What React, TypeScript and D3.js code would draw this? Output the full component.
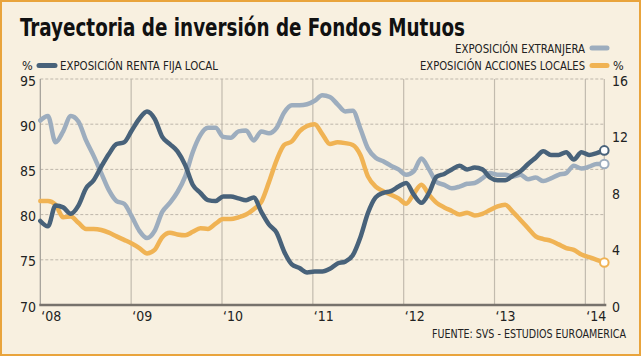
import React from "react";
import * as d3 from "d3";

const W = 641;
const H = 356;

const yearLabels = ["‘08", "‘09", "‘10", "‘11", "‘12", "‘13", "‘14"];
const yearMonths = [0, 12, 24, 36, 48, 60, 72];
const leftTicks = [70, 75, 80, 85, 90, 95];
const rightTicks = [0, 4, 8, 12, 16];
const gridTicks = [75, 80, 85, 90, 95];

// Exposición renta fija local (%, left axis), monthly Jan 2008 – Mar 2014
const rentaFija = [
  79.3, 78.7, 81.0, 80.8, 80.1, 81.0, 82.9, 83.8, 85.3, 86.7, 87.8, 88.0,
  89.3, 90.6, 91.4, 90.6, 88.6, 87.8, 87.0, 85.5, 83.3, 82.4, 81.6, 81.5,
  82.0, 82.0, 81.8, 81.6, 81.9, 80.3, 78.9, 78.0, 75.9, 74.5, 74.1, 73.6,
  73.7, 73.7, 74.0, 74.6, 74.8, 75.5, 77.5, 80.2, 81.9, 82.4, 82.6, 83.1,
  83.5, 82.2, 81.3, 82.4, 84.2, 84.5, 85.0, 85.4, 85.0, 85.2, 85.0, 84.1,
  83.8, 83.8, 84.3, 84.8, 85.6, 86.3, 87.0, 86.6, 86.6, 86.9, 86.1, 86.9,
  86.6, 86.8, 87.1,
];

// Exposición extranjera (%, right axis)
const extranjera = [
  13.06, 13.38, 11.52, 12.29, 13.38, 12.99, 11.65, 10.56, 9.34, 8.13, 7.36, 7.17,
  6.27, 5.25, 4.74, 5.25, 6.59, 7.23, 8.0, 9.09, 10.82, 12.03, 12.54, 12.54,
  11.9, 11.84, 12.29, 12.35, 11.65, 12.29, 12.16, 12.54, 13.63, 14.14, 14.14, 14.21,
  14.46, 14.85, 14.72, 14.21, 13.7, 13.76, 12.48, 11.07, 10.43, 10.18, 9.86, 9.6,
  9.22, 9.47, 10.37, 9.6, 8.7, 8.51, 8.26, 8.38, 8.58, 8.64, 8.96, 9.34,
  9.22, 9.22, 9.09, 9.22, 8.9, 9.02, 8.77, 8.96, 9.22, 9.34, 9.86, 9.66,
  9.79, 9.98, 9.98,
];

// Exposición acciones locales (%, right axis)
const accionesLocales = [
  7.36, 7.36, 7.1, 6.21, 6.27, 5.82, 5.38, 5.38, 5.31, 5.12, 4.86, 4.61,
  4.35, 4.03, 3.65, 3.9, 4.8, 5.12, 4.99, 4.93, 5.18, 5.44, 5.38, 5.76,
  6.08, 6.08, 6.21, 6.4, 6.78, 7.3, 8.7, 10.24, 11.33, 11.58, 12.29, 12.67,
  12.8, 12.1, 11.39, 11.52, 11.46, 11.33, 10.62, 9.09, 8.38, 8.06, 7.81, 7.55,
  7.17, 7.87, 8.51, 7.81, 7.23, 6.91, 6.66, 6.4, 6.53, 6.34, 6.46, 6.72,
  6.98, 7.1, 6.59, 6.02, 5.44, 4.86, 4.67, 4.54, 4.29, 4.03, 3.9, 3.58,
  3.39, 3.2, 3.01,
];

const COL_DARK = "#48627A";
const COL_LIGHT = "#9DADBE";
const COL_ORANGE = "#F0B354";
const BG = "#F8F0E0";
const FONT = "'DejaVu Sans Condensed', 'Liberation Sans Narrow', sans-serif";
const NARROW = "'Liberation Sans Narrow', 'DejaVu Sans Condensed', sans-serif";

export default function App() {
  const x0 = 40.3;
  const x1 = 604.3;
  const yTop = 79;
  const yBot = 305;
  const lastT = 74.5;
  const n = rentaFija.length;
  const tOf = (i: number) => (i * lastT) / (n - 1);

  const x = d3.scaleLinear().domain([0, lastT]).range([x0, x1]);
  const yL = d3.scaleLinear().domain([70, 95]).range([yBot, yTop]);
  const yR = d3.scaleLinear().domain([0, 16]).range([yBot, yTop]);

  const lineL = d3
    .line<number>()
    .x((_, i) => x(tOf(i)))
    .y((d) => yL(d))
    .curve(d3.curveMonotoneX);
  const lineR = d3
    .line<number>()
    .x((_, i) => x(tOf(i)))
    .y((d) => yR(d))
    .curve(d3.curveMonotoneX);

  const lastX = x(tOf(n - 1));

  return (
    <svg
      width={W}
      height={H}
      style={{ position: "absolute", left: 0, top: 0, display: "block" }}
      xmlns="http://www.w3.org/2000/svg"
    >
      <rect x={1} y={1} width={W - 2} height={H - 2} fill={BG} stroke="#E9A43C" strokeWidth={2} />

      <text
        x={20}
        y={36}
        fontFamily={FONT}
        fontWeight="bold"
        fontSize={25}
        fill="#111"
        textLength={445}
        lengthAdjust="spacingAndGlyphs"
      >
        Trayectoria de inversión de Fondos Mutuos
      </text>

      {/* legend */}
      <g fontFamily={NARROW} fontSize={12.5} fill="#222">
        <text x={22} y={69.5}>%</text>
        <line x1={39} x2={55} y1={65.5} y2={65.5} stroke={COL_DARK} strokeWidth={5} strokeLinecap="round" />
        <text x={60} y={69.5} textLength={158} lengthAdjust="spacingAndGlyphs">
          EXPOSICIÓN RENTA FIJA LOCAL
        </text>

        <text x={455} y={52.5} textLength={130} lengthAdjust="spacingAndGlyphs">
          EXPOSICIÓN EXTRANJERA
        </text>
        <line x1={592} x2={607} y1={48} y2={48} stroke={COL_LIGHT} strokeWidth={5} strokeLinecap="round" />
        <text x={420} y={69.5} textLength={165} lengthAdjust="spacingAndGlyphs">
          EXPOSICIÓN ACCIONES LOCALES
        </text>
        <line x1={592} x2={607} y1={65.5} y2={65.5} stroke={COL_ORANGE} strokeWidth={5} strokeLinecap="round" />
        <text x={613} y={69.5}>%</text>
      </g>

      {/* vertical year grid */}
      {yearMonths.slice(1).map((m) => (
        <line key={m} x1={x(m)} x2={x(m)} y1={yTop} y2={yBot} stroke="#C2BBAE" strokeWidth={1.2} />
      ))}
      <line x1={x1} x2={x1} y1={yTop} y2={yBot} stroke="#C2BBAE" strokeWidth={1.2} />

      {/* horizontal dashed grid */}
      {gridTicks.map((v) => (
        <line
          key={v}
          x1={x0}
          x2={x1}
          y1={yL(v)}
          y2={yL(v)}
          stroke="#BDB6AA"
          strokeWidth={1}
          strokeDasharray="3,2"
        />
      ))}

      {/* left axis line */}
      <line x1={x0} x2={x0} y1={yTop} y2={yBot} stroke="#A09C96" strokeWidth={1.2} />

      {/* series */}
      <path d={lineR(extranjera) || ""} fill="none" stroke={COL_LIGHT} strokeWidth={4.5} strokeLinejoin="round" strokeLinecap="round" />
      <path d={lineR(accionesLocales) || ""} fill="none" stroke={COL_ORANGE} strokeWidth={4.5} strokeLinejoin="round" strokeLinecap="round" />
      <path d={lineL(rentaFija) || ""} fill="none" stroke={COL_DARK} strokeWidth={4.5} strokeLinejoin="round" strokeLinecap="round" />

      {/* end markers */}
      <circle cx={lastX} cy={yR(extranjera[n - 1])} r={4.3} fill="#fff" stroke={COL_LIGHT} strokeWidth={2} />
      <circle cx={lastX} cy={yR(accionesLocales[n - 1])} r={4.3} fill="#fff" stroke={COL_ORANGE} strokeWidth={2} />
      <circle cx={lastX} cy={yL(rentaFija[n - 1])} r={4.3} fill="#fff" stroke={COL_DARK} strokeWidth={2} />

      {/* bottom axis */}
      <line x1={x0 - 1} x2={x1 + 2} y1={yBot} y2={yBot} stroke="#77726C" strokeWidth={2.5} />

      <g fontFamily={FONT} fontSize={14} fill="#222">
        {leftTicks.map((v) => (
          <text key={v} x={36} y={yL(v) + 6.5} textAnchor="end">
            {v}
          </text>
        ))}
        {rightTicks.map((v) => (
          <text key={v} x={612} y={yR(v) + 6.5}>
            {v}
          </text>
        ))}
        {yearLabels.map((lab, i) => (
          <text key={lab} x={x(yearMonths[i]) + 1} y={321}>
            {lab}
          </text>
        ))}
      </g>

      <text x={432} y={338} fontFamily={NARROW} fontSize={11.4} fill="#222" textLength={194} lengthAdjust="spacingAndGlyphs">
        FUENTE: SVS - ESTUDIOS EUROAMERICA
      </text>
    </svg>
  );
}
